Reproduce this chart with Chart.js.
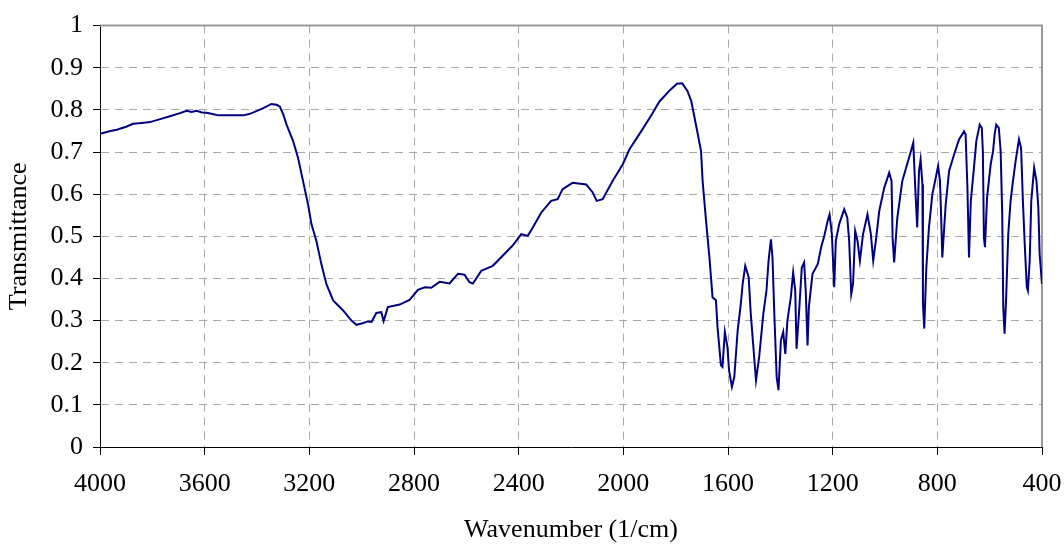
<!DOCTYPE html>
<html>
<head>
<meta charset="utf-8">
<title>IR spectrum</title>
<script src="https://cdn.jsdelivr.net/npm/chart.js@4/dist/chart.umd.min.js"></script>
<style>
  html, body { margin: 0; padding: 0; background: #fff; }
  #wrap { width: 1064px; height: 544px; }
</style>
</head>
<body>
<div id="wrap"><canvas id="spectrum" width="1064" height="544"></canvas></div>
<script>
// Spectrum samples (wavenumber in 1/cm, transmittance 0..1)
const wavenumbers = [
  4000, 3960, 3936, 3900, 3874, 3840, 3809, 3770, 3733, 3700,
  3669, 3650, 3631, 3610, 3593, 3570, 3548, 3500, 3453, 3430,
  3402, 3370, 3345, 3325, 3313, 3300, 3287, 3262, 3243, 3224,
  3205, 3192, 3173, 3154, 3135, 3109, 3071, 3039, 3020, 3000,
  2976, 2962, 2944, 2925, 2916, 2900, 2855, 2817, 2785, 2759,
  2734, 2702, 2664, 2632, 2607, 2588, 2575, 2543, 2499, 2461,
  2423, 2390, 2365, 2346, 2314, 2276, 2251, 2232, 2194, 2142,
  2117, 2102, 2079, 2041, 2002, 1977, 1932, 1890, 1862, 1820,
  1795, 1775, 1755, 1740, 1721, 1703, 1697, 1684, 1671, 1659,
  1646, 1640, 1627, 1621, 1612, 1602, 1596, 1585, 1576, 1563,
  1551, 1544, 1534, 1521, 1513, 1502, 1493, 1481, 1465, 1453,
  1445, 1436, 1430, 1423, 1414, 1407, 1398, 1389, 1381, 1373,
  1360, 1351, 1343, 1338, 1328, 1318, 1309, 1303, 1296, 1291,
  1277, 1257, 1244, 1232, 1219, 1212, 1203, 1194, 1188, 1175,
  1156, 1144, 1137, 1129, 1122, 1114, 1105, 1096, 1084, 1067,
  1054, 1045, 1035, 1022, 1003, 984, 975, 971, 965, 953,
  934, 914, 901, 892, 885, 877, 870, 864, 857, 855,
  850, 842, 832, 819, 806, 797, 790, 786, 781, 768,
  755, 736, 717, 698, 692, 685, 679, 672, 660, 651,
  638, 630, 626, 622, 618, 610, 596, 587, 581, 575,
  565, 558, 552, 548, 543, 537, 529, 520, 511, 501,
  488, 480, 473, 466, 458, 454, 447, 441, 430, 421,
  414, 409, 400
];
const transmittance = [
  0.743, 0.750, 0.753, 0.760, 0.767, 0.769, 0.771, 0.778, 0.785, 0.791,
  0.798, 0.795, 0.798, 0.794, 0.793, 0.790, 0.787, 0.787, 0.787, 0.790,
  0.797, 0.806, 0.814, 0.812, 0.808, 0.790, 0.765, 0.726, 0.686, 0.631,
  0.576, 0.529, 0.489, 0.434, 0.387, 0.348, 0.324, 0.300, 0.290, 0.293,
  0.298, 0.297, 0.318, 0.320, 0.299, 0.332, 0.338, 0.349, 0.373, 0.379,
  0.378, 0.392, 0.388, 0.411, 0.409, 0.391, 0.388, 0.418, 0.430, 0.454,
  0.478, 0.505, 0.501, 0.521, 0.556, 0.584, 0.588, 0.612, 0.627, 0.623,
  0.604, 0.584, 0.588, 0.631, 0.671, 0.706, 0.749, 0.790, 0.820, 0.848,
  0.862, 0.863, 0.845, 0.820, 0.760, 0.702, 0.631, 0.537, 0.450, 0.355,
  0.348, 0.284, 0.194, 0.190, 0.273, 0.237, 0.182, 0.143, 0.166, 0.277,
  0.340, 0.387, 0.430, 0.403, 0.316, 0.229, 0.158, 0.213, 0.316, 0.371,
  0.442, 0.493, 0.450, 0.316, 0.166, 0.135, 0.253, 0.273, 0.221, 0.300,
  0.355, 0.414, 0.371, 0.233, 0.324, 0.426, 0.438, 0.371, 0.241, 0.332,
  0.411, 0.434, 0.474, 0.501, 0.537, 0.552, 0.505, 0.379, 0.489, 0.529,
  0.564, 0.544, 0.489, 0.363, 0.387, 0.513, 0.489, 0.442, 0.505, 0.552,
  0.505, 0.442, 0.489, 0.560, 0.615, 0.651, 0.631, 0.497, 0.438, 0.544,
  0.631, 0.674, 0.702, 0.722, 0.623, 0.521, 0.655, 0.682, 0.623, 0.340,
  0.281, 0.426, 0.521, 0.600, 0.639, 0.667, 0.631, 0.560, 0.450, 0.576,
  0.655, 0.694, 0.730, 0.749, 0.742, 0.615, 0.450, 0.584, 0.663, 0.726,
  0.765, 0.757, 0.702, 0.497, 0.474, 0.592, 0.671, 0.702, 0.742, 0.765,
  0.757, 0.702, 0.552, 0.332, 0.269, 0.355, 0.505, 0.584, 0.631, 0.678,
  0.730, 0.710, 0.584, 0.481, 0.379, 0.371, 0.442, 0.584, 0.663, 0.631,
  0.568, 0.458, 0.387
];

const xTitle = 'Wavenumber (1/cm)';
const yTitle = 'Transmittance';

const serif = "'Liberation Serif', 'Times New Roman', serif";
const gridGray = '#a8a8a8';

// gray frame on the top and right edges of the plot area
const plotFrame = {
  id: 'plotFrame',
  beforeDatasetsDraw(chart) {
    const { ctx, chartArea: a } = chart;
    ctx.save();
    ctx.strokeStyle = '#999';
    ctx.lineWidth = 2;
    ctx.beginPath();
    ctx.moveTo(a.left, a.top);
    ctx.lineTo(a.right, a.top);
    ctx.lineTo(a.right, a.bottom);
    ctx.stroke();
    ctx.restore();
  }
};

new Chart(document.getElementById('spectrum'), {
  type: 'line',
  data: {
    datasets: [{
      label: yTitle,
      data: wavenumbers.map((w, i) => ({ x: w, y: transmittance[i] })),
      borderColor: '#000080',
      borderWidth: 2,
      pointRadius: 0,
      tension: 0,
      fill: false
    }]
  },
  options: {
    responsive: false,
    animation: false,
    layout: { padding: { top: 24, right: 22, left: 0, bottom: 0 } },
    plugins: {
      legend: { display: false },
      tooltip: { enabled: false }
    },
    scales: {
      x: {
        type: 'linear',
        reverse: true,
        min: 400,
        max: 4000,
        afterFit: scale => {
          scale.height = 97;
          scale.paddingLeft = 0;
          scale.paddingRight = 0;
        },
        ticks: {
          stepSize: 400,
          padding: 14,
          maxRotation: 0,
          color: '#000',
          font: { family: serif, size: 26 },
          callback: v => String(v)
        },
        grid: { color: gridGray, lineWidth: 1, tickColor: '#000', tickLength: 8 },
        border: { color: '#000', width: 1, dash: [8, 6] },
        title: {
          display: true,
          text: xTitle,
          color: '#000',
          font: { family: serif, size: 26 },
          padding: { top: 0, bottom: -2 }
        }
      },
      y: {
        min: 0,
        max: 1,
        afterFit: scale => { scale.width = 100; },
        ticks: {
          stepSize: 0.1,
          padding: 10,
          color: '#000',
          font: { family: serif, size: 26 },
          callback: v => String(+v.toFixed(1))
        },
        grid: { color: gridGray, lineWidth: 1, tickColor: '#000', tickLength: 7 },
        border: { color: '#000', width: 1, dash: [8, 6] },
        title: {
          display: true,
          text: yTitle,
          color: '#000',
          font: { family: serif, size: 26 },
          padding: { top: 4, bottom: 0 }
        }
      }
    }
  },
  plugins: [plotFrame]
});
</script>
</body>
</html>
